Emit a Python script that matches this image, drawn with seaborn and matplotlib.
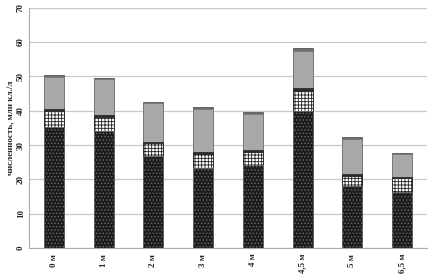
# стековая гистограмма численности по глубинам
import numpy as np
import seaborn as sns
import matplotlib.pyplot as plt

depths = ['0 м', '1 м', '2 м', '3 м', '4 м', '4,5 м', '5 м', '6,5 м']
grp_dark = [35.3, 34.1, 26.8, 23.4, 24.3, 40.0, 18.1, 16.2]
grp_cross = [4.6, 4.1, 3.7, 3.9, 3.8, 5.8, 2.9, 4.1]
grp_band = [0.5, 0.5, 0.5, 0.6, 0.5, 0.7, 0.5, 0.5]
grp_gray = [9.4, 10.5, 11.1, 12.6, 10.5, 10.9, 10.3, 6.5]
grp_top = [0.6, 0.4, 0.5, 0.6, 0.4, 0.7, 0.4, 0.3]

sns.set_style('white')
plt.rcParams['font.family'] = ['Liberation Serif', 'DejaVu Serif']
plt.rcParams['hatch.linewidth'] = 0.6

fig = plt.figure(figsize=(4.34, 2.8), dpi=100)
ax = fig.add_axes([0.067, 0.114, 0.917, 0.859])

# накопленные суммы, рисуем сверху вниз
c1 = np.array(grp_dark)
c2 = c1 + np.array(grp_cross)
c3 = c2 + np.array(grp_band)
c4 = c3 + np.array(grp_gray)
c5 = c4 + np.array(grp_top)

layers = [
    (c5, '#6e6e6e', '#555555', None),
    (c4, '#a8a8a8', '#777777', None),
    (c3, '#2b2b2b', '#2b2b2b', None),
    (c2, 'white', '#222222', '+++++'),
    (c1, '#1c1c1c', '#6a6a6a', '.....'),
]
for vals, fc, ec, hatch in layers:
    sns.barplot(x=depths, y=vals, color=fc, saturation=1, width=0.4,
                edgecolor=ec, linewidth=0.6, ax=ax)
    if hatch:
        for p in ax.containers[-1]:
            p.set_hatch(hatch)

ax.set_ylim(0, 70)
ax.set_xlim(-0.5, 7.5)
ax.set_yticks(range(0, 71, 10))
ax.yaxis.grid(True, color='#c8c8c8', linewidth=0.9)
ax.set_axisbelow(True)
for s in ['top', 'right']:
    ax.spines[s].set_visible(False)
for s in ['left', 'bottom']:
    ax.spines[s].set_color('#aaaaaa')
    ax.spines[s].set_linewidth(0.8)

ax.set_xticks(np.arange(8))
ax.set_xticklabels(depths, rotation=90, fontsize=6.5, fontweight='bold')
ax.set_xticks(np.arange(-0.5, 8, 1), minor=True)
ax.tick_params(axis='x', which='major', length=0, pad=4)
ax.tick_params(axis='x', which='minor', length=2.5, color='#aaaaaa', width=0.6)
ax.tick_params(axis='y', length=0, pad=3)
for t in ax.get_yticklabels():
    t.set_rotation(90)
    t.set_fontsize(6.5)
    t.set_fontweight('bold')
    t.set_va('center')

ax.set_ylabel('численность, млн кл./л', fontsize=6.5, fontweight='bold', labelpad=2)

fig.savefig('out.png', dpi=100)
